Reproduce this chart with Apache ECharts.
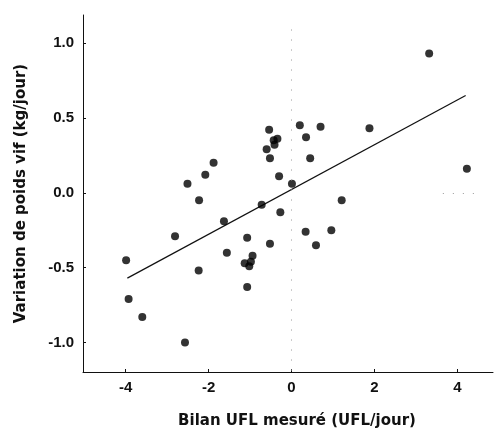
<!DOCTYPE html>
<html>
<head>
<meta charset="utf-8">
<script src="https://cdn.jsdelivr.net/npm/echarts@6/dist/echarts.min.js"></script>
<style>html,body{margin:0;padding:0;background:#fff;}#c{width:495px;height:434px;}</style>
</head>
<body>
<div id="c"></div>
<script>
var xValues = [3.32, 4.23, 1.88, 0.70, 0.20, 0.35, 0.45, 0.01, -0.30, -0.54, -0.43, -0.34, -0.41, -0.60, -0.52, -1.88, -2.08, -2.51,
  -2.23, 1.21, -1.63, -0.72, -0.27, -2.81, -1.07, -1.56, -0.52, 0.34, 0.59, 0.96, -3.99, -2.24, -0.94, -1.13, -1.02, -0.98, -1.07, -3.93, -3.60, -2.57];
var yValues = [0.93, 0.16, 0.43, 0.44, 0.45, 0.37, 0.23, 0.06, 0.11, 0.42, 0.35, 0.36, 0.32, 0.29, 0.23, 0.20, 0.12, 0.06,
  -0.05, -0.05, -0.19, -0.08, -0.13, -0.29, -0.30, -0.40, -0.34, -0.26, -0.35, -0.25, -0.45, -0.52, -0.42, -0.47, -0.49, -0.46, -0.63, -0.71, -0.83, -1.00];
var fitX = [-3.96, 4.20];
var fitY = [-0.57, 0.65];
var xTicks = [-4, -2, 0, 2, 4];
var yTicks = [-1.0, -0.5, 0.0, 0.5, 1.0];
var xTitle = 'Bilan UFL mesuré (UFL/jour)';
var yTitle = 'Variation de poids vif (kg/jour)';

var points = xValues.map(function (x, i) { return [x, yValues[i]]; });
var fitLine = fitX.map(function (x, i) { return [x, fitY[i]]; });

var chart = echarts.init(document.getElementById('c'));
var tickFont = 'Liberation Sans, Arial, sans-serif';
var titleFont = 'DejaVu Sans, Verdana, sans-serif';
chart.setOption({
  animation: false,
  backgroundColor: '#fff',
  grid: { left: 83, right: 2, top: 15, bottom: 59 },
  xAxis: {
    type: 'value', min: -5.03, max: 4.86,
    name: xTitle, nameLocation: 'middle', nameGap: 42,
    nameTextStyle: { fontFamily: titleFont, fontSize: 15, fontWeight: 'bold', color: '#111', padding: [0, 0, 0, 18] },
    axisLine: { show: true, onZero: false, lineStyle: { color: '#111', width: 1 } },
    axisTick: { show: true, inside: true, length: 3, customValues: xTicks, lineStyle: { color: '#111' } },
    axisLabel: { customValues: xTicks, margin: 8, fontFamily: tickFont, fontSize: 15, fontWeight: 'bold', color: '#111' },
    splitLine: { show: false }
  },
  yAxis: {
    type: 'value', min: -1.197, max: 1.187,
    name: yTitle, nameLocation: 'middle', nameGap: 54,
    nameTextStyle: { fontFamily: titleFont, fontSize: 15, fontWeight: 'bold', color: '#111' },
    axisLine: { show: true, onZero: false, lineStyle: { color: '#111', width: 1 } },
    axisTick: { show: true, inside: true, length: 3, customValues: yTicks, lineStyle: { color: '#111' } },
    axisLabel: { customValues: yTicks, margin: 9, fontFamily: tickFont, fontSize: 15, fontWeight: 'bold', color: '#111',
      formatter: function (v) { return v.toFixed(1); } },
    splitLine: { show: false }
  },
  series: [
    {
      type: 'line', data: fitLine, symbol: 'none', silent: true,
      lineStyle: { color: '#111', width: 1.2 }, z: 2,
      markLine: {
        silent: true, symbol: 'none', label: { show: false },
        lineStyle: { color: '#999', width: 1, type: [1, 9] },
        data: [
          [{ coord: [0, 1.09] }, { coord: [0, -1.19] }],
          [{ coord: [3.65, 0] }, { coord: [4.55, 0] }]
        ]
      }
    },
    {
      type: 'scatter', data: points, symbol: 'circle', symbolSize: 8,
      itemStyle: { color: '#000' }, z: 3
    }
  ]
});
</script>
</body>
</html>
